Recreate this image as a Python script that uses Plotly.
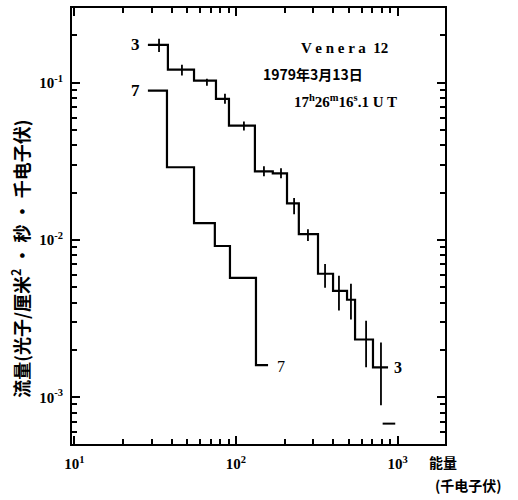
import plotly.graph_objects as go

# ---- data ----
# curve "3": bin edges (keV) and flux levels
c3_edges = [28.5, 37.9, 55.0, 75.2, 90.5, 131, 169, 207, 245, 322, 399, 487, 546, 705, 874]
c3_flux = [0.174, 0.121, 0.103, 0.079, 0.0534, 0.0273, 0.0265, 0.0171, 0.0109,
           0.0061, 0.00475, 0.00417, 0.00233, 0.00155]
# error bars of curve "3": position, low, high
c3_err_x = [33.4, 46.3, 66.1, 85.5, 112, 149, 190, 229, 279, 356, 434, 515, 639, 790]
c3_err_lo = [0.157, 0.111, 0.0957, 0.0736, 0.0497, 0.0254, 0.0247, 0.0146, 0.00986,
             0.00497, 0.00356, 0.00312, 0.00155, 0.00089]
c3_err_hi = [0.190, 0.130, 0.106, 0.0852, 0.0566, 0.0294, 0.0286, 0.0185, 0.0117,
             0.00705, 0.00592, 0.00527, 0.00307, 0.00223]
# upper-limit dash after last bin of curve "3"
c3_limit_x = [885]
c3_limit_y = [0.00068]

# curve "7"
c7_edges = [28.5, 37.4, 55.0, 74.0, 91.8, 133, 158]
c7_flux = [0.089, 0.029, 0.0128, 0.00916, 0.00575, 0.0016]

x_ticks = [10, 100, 1000]
x_ticktext = ["<b>10<sup>1</sup></b>", "<b>10<sup>2</sup></b>", "<b>10<sup>3</sup></b>"]
y_ticks = [0.1, 0.01, 0.001]
y_ticktext = ["<b>10<sup>-1</sup></b>", "<b>10<sup>-2</sup></b>", "<b>10<sup>-3</sup></b>"]

x_minor = [m * d for d in (10, 100, 1000) for m in range(2, 10) if m * d <= 2000]
y_minor = [m * d for d in (0.0001, 0.001, 0.01, 0.1) for m in range(2, 10) if 0.0005 <= m * d <= 0.3]

fig = go.Figure()

fig.add_trace(go.Scatter(
    x=c3_edges, y=c3_flux + [c3_flux[-1]], mode="lines", line_shape="hv",
    line=dict(color="black", width=2.2), showlegend=False, hoverinfo="skip"))

ex, ey = [], []
for x, lo, hi in zip(c3_err_x, c3_err_lo, c3_err_hi):
    ex += [x, x, None]
    ey += [lo, hi, None]
fig.add_trace(go.Scatter(x=ex, y=ey, mode="lines",
                         line=dict(color="black", width=1.8),
                         showlegend=False, hoverinfo="skip"))

fig.add_trace(go.Scatter(x=c3_limit_x, y=c3_limit_y, mode="markers",
                         marker=dict(symbol="line-ew", size=9,
                                     line=dict(color="black", width=2)),
                         showlegend=False, hoverinfo="skip"))

fig.add_trace(go.Scatter(
    x=c7_edges, y=c7_flux + [c7_flux[-1]], mode="lines", line_shape="hv",
    line=dict(color="black", width=2.2), showlegend=False, hoverinfo="skip"))

serif = "Liberation Serif"
cjk = "Noto Sans CJK SC"

ann = [
    dict(x=1.381, y=-0.759, text="<b>3</b>", font=dict(family=serif, size=17)),
    dict(x=1.381, y=-1.051, text="<b>7</b>", font=dict(family=serif, size=17)),
    dict(x=2.279, y=-2.804, text="7", font=dict(family=serif, size=16)),
    dict(x=3.003, y=-2.810, text="<b>3</b>", font=dict(family=serif, size=16)),
    dict(x=2.669, y=-0.778, text="<b>V e n e r a  12</b>", font=dict(family=serif, size=15)),
    dict(x=2.477, y=-0.943, text="<b>1979年3月13日</b>", font=dict(family=cjk, size=14)),
    dict(x=2.681, y=-1.114,
         text="<b>17<sup>h</sup>26<sup>m</sup>16<sup>s</sup>.1 U T</b>",
         font=dict(family=serif, size=15)),
]
annotations = []
for a in ann:
    a.update(xref="x", yref="y", showarrow=False, font_color="black",
             xanchor="center", yanchor="middle")
    annotations.append(a)

annotations += [
    dict(xref="paper", yref="paper", x=0.995, y=-0.041, text="<b>能量</b>",
         xanchor="center", yanchor="middle",
         showarrow=False, font=dict(family=cjk, size=14, color="black")),
    dict(xref="paper", yref="paper", x=1.064, y=-0.094, text="<b>(千电子伏)</b>",
         xanchor="center", yanchor="middle",
         showarrow=False, font=dict(family=cjk, size=14, color="black")),
    dict(xref="paper", yref="paper", x=-0.139, y=0.425, textangle=-90,
         xanchor="center", yanchor="middle",
         text="<b>流量(光子/厘米<sup>2</sup> • 秒 • 千电子伏)</b>",
         showarrow=False, font=dict(family=cjk, size=18, color="black")),
]

fig.update_layout(
    width=518, height=500,
    margin=dict(l=72, r=73, t=6, b=56),
    paper_bgcolor="white", plot_bgcolor="white",
    annotations=annotations,
    showlegend=False,
)

fig.update_xaxes(
    type="log", range=[0.985, 3.294],
    tickmode="array", tickvals=x_ticks, ticktext=x_ticktext,
    ticks="inside", ticklen=8, tickwidth=2, tickcolor="black",
    showline=True, linecolor="black", linewidth=2, mirror="allticks",
    showgrid=False, zeroline=False,
    tickfont=dict(family=serif, size=15, color="black"),
    ticklabelstandoff=5,
    minor=dict(tickvals=x_minor, ticks="inside", ticklen=5, tickwidth=1.5,
               tickcolor="black", showgrid=False),
)
fig.update_yaxes(
    type="log", range=[-3.297, -0.525],
    tickmode="array", tickvals=y_ticks, ticktext=y_ticktext,
    ticks="inside", ticklen=8, tickwidth=2, tickcolor="black",
    showline=True, linecolor="black", linewidth=2, mirror="allticks",
    showgrid=False, zeroline=False,
    tickfont=dict(family=serif, size=15, color="black"),
    ticklabelstandoff=4,
    minor=dict(tickvals=y_minor, ticks="inside", ticklen=5, tickwidth=1.5,
               tickcolor="black", showgrid=False),
)

fig.write_html("out.html", config={"displayModeBar": False},
               post_script="document.body.style.margin='0px';document.body.style.padding='0px';")
